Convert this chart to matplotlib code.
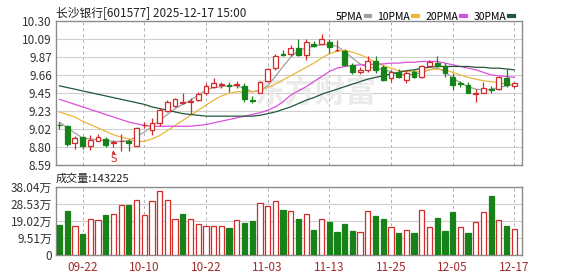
"""K-line chart of 长沙银行 with moving averages and volume."""

import matplotlib
matplotlib.use('Agg')
import matplotlib.pyplot as plt
from matplotlib.lines import Line2D

plt.rcParams['font.family'] = ['Noto Sans CJK SC', 'DejaVu Sans']

# ---- data ----
dates = ['09-17', '09-18', '09-19', '09-22', '09-23', '09-24', '09-25', '09-26', '09-29', '09-30',
         '10-09', '10-10', '10-13', '10-14', '10-15', '10-16', '10-17', '10-20', '10-21', '10-22',
         '10-23', '10-24', '10-27', '10-28', '10-29', '10-30', '10-31', '11-03', '11-04', '11-05',
         '11-06', '11-07', '11-10', '11-11', '11-12', '11-13', '11-14', '11-17', '11-18', '11-19',
         '11-20', '11-21', '11-24', '11-25', '11-26', '11-27', '11-28', '12-01', '12-02', '12-03',
         '12-04', '12-05', '12-08', '12-09', '12-10', '12-11', '12-12', '12-15', '12-16', '12-17']

opens = [9.07, 9.05, 8.85, 8.92, 8.81, 8.88, 8.90, 8.85, 8.87, 8.88,
         8.82, 9.06, 9.01, 9.09, 9.23, 9.29, 9.33, 9.34, 9.36, 9.45,
         9.52, 9.54, 9.54, 9.54, 9.53, 9.36, 9.45, 9.59, 9.74, 9.91,
         9.91, 9.98, 9.90, 10.03, 10.03, 10.05, 9.95, 9.94, 9.78, 9.69,
         9.72, 9.82, 9.75, 9.62, 9.69, 9.60, 9.69, 9.64, 9.77, 9.80,
         9.76, 9.63, 9.56, 9.54, 9.43, 9.45, 9.49, 9.49, 9.62, 9.53]
closes = [9.06, 8.84, 8.91, 8.81, 8.89, 8.92, 8.83, 8.86, 8.88, 8.85,
          9.03, 9.07, 9.09, 9.24, 9.34, 9.37, 9.34, 9.35, 9.43, 9.53,
          9.56, 9.55, 9.53, 9.55, 9.37, 9.35, 9.57, 9.73, 9.89, 9.90,
          9.98, 9.90, 10.05, 10.00, 10.09, 9.99, 9.96, 9.78, 9.70, 9.72,
          9.82, 9.72, 9.60, 9.69, 9.64, 9.68, 9.64, 9.76, 9.81, 9.76,
          9.68, 9.54, 9.55, 9.45, 9.44, 9.50, 9.48, 9.63, 9.54, 9.56]
highs = [9.10, 9.07, 8.94, 8.94, 8.95, 8.96, 8.92, 8.89, 8.96, 8.90,
         9.04, 9.10, 9.15, 9.27, 9.36, 9.38, 9.44, 9.38, 9.46, 9.56,
         9.62, 9.58, 9.57, 9.59, 9.56, 9.41, 9.59, 9.74, 9.91, 9.95,
         10.01, 10.09, 10.09, 10.06, 10.15, 10.09, 10.07, 9.97, 9.80, 9.75,
         9.88, 9.88, 9.78, 9.72, 9.73, 9.72, 9.72, 9.78, 9.84, 9.88,
         9.80, 9.68, 9.59, 9.57, 9.49, 9.58, 9.53, 9.65, 9.73, 9.58]
lows = [9.02, 8.81, 8.78, 8.78, 8.77, 8.87, 8.80, 8.80, 8.76, 8.76,
        8.81, 9.03, 8.95, 9.05, 9.22, 9.28, 9.32, 9.19, 9.35, 9.42,
        9.50, 9.51, 9.46, 9.50, 9.34, 9.33, 9.44, 9.58, 9.72, 9.88,
        9.89, 9.89, 9.84, 9.99, 10.01, 9.92, 9.94, 9.76, 9.67, 9.67,
        9.70, 9.68, 9.59, 9.58, 9.62, 9.56, 9.62, 9.62, 9.75, 9.75,
        9.63, 9.48, 9.52, 9.44, 9.34, 9.44, 9.44, 9.48, 9.52, 9.51]

ma5 = [9.10, 9.03, 8.97, 8.91, 8.90, 8.89, 8.88, 8.87, 8.87, 8.88,
       8.93, 8.98, 9.05, 9.12, 9.19, 9.26, 9.31, 9.36, 9.42, 9.48,
       9.51, 9.52, 9.53, 9.53, 9.50, 9.46, 9.47, 9.53, 9.64, 9.76,
       9.87, 9.95, 9.98, 10.00, 10.02, 10.02, 10.00, 9.94, 9.86, 9.79,
       9.75, 9.74, 9.72, 9.70, 9.67, 9.66, 9.67, 9.69, 9.72, 9.74,
       9.70, 9.62, 9.57, 9.52, 9.49, 9.48, 9.49, 9.51, 9.53, 9.55]
ma10 = [9.22, 9.19, 9.16, 9.11, 9.07, 9.03, 8.99, 8.95, 8.92, 8.90,
        8.87, 8.87, 8.90, 8.94, 9.00, 9.06, 9.12, 9.18, 9.24, 9.30,
        9.36, 9.41, 9.44, 9.46, 9.46, 9.46, 9.48, 9.51, 9.55, 9.60,
        9.65, 9.70, 9.75, 9.80, 9.86, 9.91, 9.94, 9.95, 9.93, 9.90,
        9.86, 9.81, 9.77, 9.74, 9.71, 9.70, 9.70, 9.71, 9.72, 9.73,
        9.72, 9.69, 9.66, 9.63, 9.61, 9.59, 9.58, 9.57, 9.55, 9.54]
ma20 = [9.37, 9.34, 9.31, 9.28, 9.25, 9.22, 9.19, 9.16, 9.13, 9.10,
        9.08, 9.06, 9.05, 9.05, 9.05, 9.05, 9.05, 9.05, 9.06, 9.07,
        9.09, 9.11, 9.13, 9.15, 9.17, 9.19, 9.21, 9.24, 9.28, 9.34,
        9.42, 9.47, 9.52, 9.58, 9.64, 9.70, 9.74, 9.76, 9.77, 9.78,
        9.78, 9.79, 9.79, 9.80, 9.80, 9.81, 9.81, 9.82, 9.82, 9.82,
        9.80, 9.78, 9.76, 9.74, 9.72, 9.69, 9.66, 9.65, 9.64, 9.63]
ma30 = [9.53, 9.51, 9.49, 9.47, 9.45, 9.43, 9.41, 9.39, 9.37, 9.35,
        9.33, 9.31, 9.28, 9.26, 9.24, 9.22, 9.20, 9.19, 9.18, 9.17,
        9.17, 9.17, 9.17, 9.17, 9.17, 9.17, 9.18, 9.20, 9.22, 9.25,
        9.28, 9.32, 9.36, 9.39, 9.43, 9.46, 9.49, 9.52, 9.55, 9.58,
        9.61, 9.63, 9.65, 9.67, 9.69, 9.71, 9.72, 9.74, 9.75, 9.76,
        9.76, 9.76, 9.76, 9.76, 9.75, 9.75, 9.74, 9.74, 9.73, 9.72]

# volume in 万 shares; 'r' = up day (hollow red), 'g' = down day (filled green)
volumes = [16.7, 24.5, 16.1, 11.7, 20.4, 19.5, 22.3, 22.8, 27.8, 27.8,
           31.0, 22.3, 30.4, 35.6, 31.0, 20.4, 22.8, 20.4, 17.1, 16.1,
           16.1, 16.1, 15.2, 19.5, 18.0, 19.1, 29.3, 27.3, 30.1, 25.1,
           24.5, 20.0, 22.8, 13.9, 19.9, 18.4, 12.8, 17.3, 13.5, 12.8,
           24.5, 21.7, 20.0, 15.4, 12.2, 13.9, 12.2, 25.0, 15.4, 20.6,
           13.5, 24.1, 15.4, 12.2, 18.4, 23.9, 32.8, 19.5, 16.1, 14.3]
vol_dirs = list('ggrgrrgrrg'
                'rrrrrrgrrr'
                'rrgrggrrrg'
                'rgrgrggggr'
                'rggrgrgrrg'
                'ggrgrrgrgr')

price_ticks = [8.59, 8.80, 9.02, 9.23, 9.45, 9.66, 9.87, 10.09, 10.30]
vol_ticks = [0, 9.51, 19.02, 28.53, 38.04]
vol_tick_labels = ['0', '9.51万', '19.02万', '28.53万', '38.04万']
date_labels = ['09-22', '10-10', '10-22', '11-03', '11-13', '11-25', '12-05', '12-17']
signal_idx = [7]

title = '长沙银行[601577] 2025-12-17 15:00'
last_volume = 143225

RED = '#d42a2a'
GREEN = '#178217'
MA_COLORS = {'5PMA': '#a0a0a0', '10PMA': '#ecb63a', '20PMA': '#dc4fdc', '30PMA': '#22573a'}

fig = plt.figure(figsize=(5.78, 2.76), dpi=100)
ax = fig.add_axes([56 / 578, 1 - 165 / 276, 466 / 578, 144 / 276])
axv = fig.add_axes([56 / 578, 1 - 255 / 276, 466 / 578, 68 / 276])

xs = list(range(len(dates)))
tick_pos = [dates.index(d) for d in date_labels]
body_w = 0.62

# ---- price panel ----
for i in xs:
    up = closes[i] >= opens[i]
    col = RED if up else GREEN
    ax.vlines(i, lows[i], highs[i], color=col, lw=0.9, zorder=3)
    lo = min(opens[i], closes[i])
    h = max(abs(closes[i] - opens[i]), 0.004)
    ax.bar(i, h, bottom=lo, width=body_w, facecolor='white' if up else GREEN,
           edgecolor=col, lw=0.9, zorder=4)

for name, vals in zip(MA_COLORS, [ma5, ma10, ma20, ma30]):
    ax.plot(xs, vals, color=MA_COLORS[name], lw=0.9, zorder=2)

for i in signal_idx:
    ax.annotate('S', xy=(i, lows[i]), xytext=(0, -8.5), textcoords='offset points',
                ha='center', va='center', fontsize=7.5, color=RED,
                family='DejaVu Sans', zorder=5)
    ax.annotate('', xy=(i, lows[i]), xytext=(0, -5), textcoords='offset points',
                arrowprops=dict(arrowstyle='-|>', color=RED, lw=0.8,
                                mutation_scale=4, shrinkA=0, shrinkB=2))

ax.text(0.556, 0.50, '东方财富', transform=ax.transAxes, ha='center', va='center',
        fontsize=22, color='#ebebeb', fontweight='bold', zorder=1)

ax.set_ylim(price_ticks[0], price_ticks[-1])
ax.set_yticks(price_ticks)
ax.set_yticklabels([f'{t:.2f}' for t in price_ticks])
ax.set_xlim(-0.45, len(dates))
ax.set_xticks(tick_pos)
ax.set_xticklabels([])

ax.text(0, 1.015, title, transform=ax.transAxes, ha='left', va='bottom',
        fontsize=8.5, color='#222222')

handles = [Line2D([], [], color=c, lw=3) for c in MA_COLORS.values()]
ax.legend(handles, list(MA_COLORS), loc='lower right', bbox_to_anchor=(0.985, 0.985),
          ncol=4, markerfirst=False, frameon=False, handlelength=0.45,
          handletextpad=0.3, columnspacing=0.7, fontsize=7.5, borderaxespad=0,
          borderpad=0.1)

# ---- volume panel ----
for i in xs:
    up = vol_dirs[i] == 'r'
    axv.bar(i, volumes[i], width=0.68, facecolor='white' if up else GREEN,
            edgecolor=RED if up else GREEN, lw=0.9, zorder=3)

axv.set_ylim(vol_ticks[0], vol_ticks[-1])
axv.set_yticks(vol_ticks)
axv.set_yticklabels(vol_tick_labels)
axv.set_xlim(-0.45, len(dates))
axv.set_xticks(tick_pos)
axv.set_xticklabels(date_labels, color='#a52a2a')
axv.text(0, 1.04, f'成交量:{last_volume}', transform=axv.transAxes, ha='left',
         va='bottom', fontsize=8, color='#222222')

for a in (ax, axv):
    a.grid(axis='y', color='#cfcfcf', lw=0.8, ls='-')
    a.grid(axis='x', color='#b0b0b0', lw=0.7, ls=(0, (3, 3)))
    a.set_axisbelow(True)
    a.tick_params(length=0, labelsize=8.5, colors='#333333', pad=3)
    for s in a.spines.values():
        s.set_color('#8c8c8c')
        s.set_linewidth(1)
axv.tick_params(axis='x', colors='#a52a2a', pad=4)

fig.savefig('out.png', dpi=100)
